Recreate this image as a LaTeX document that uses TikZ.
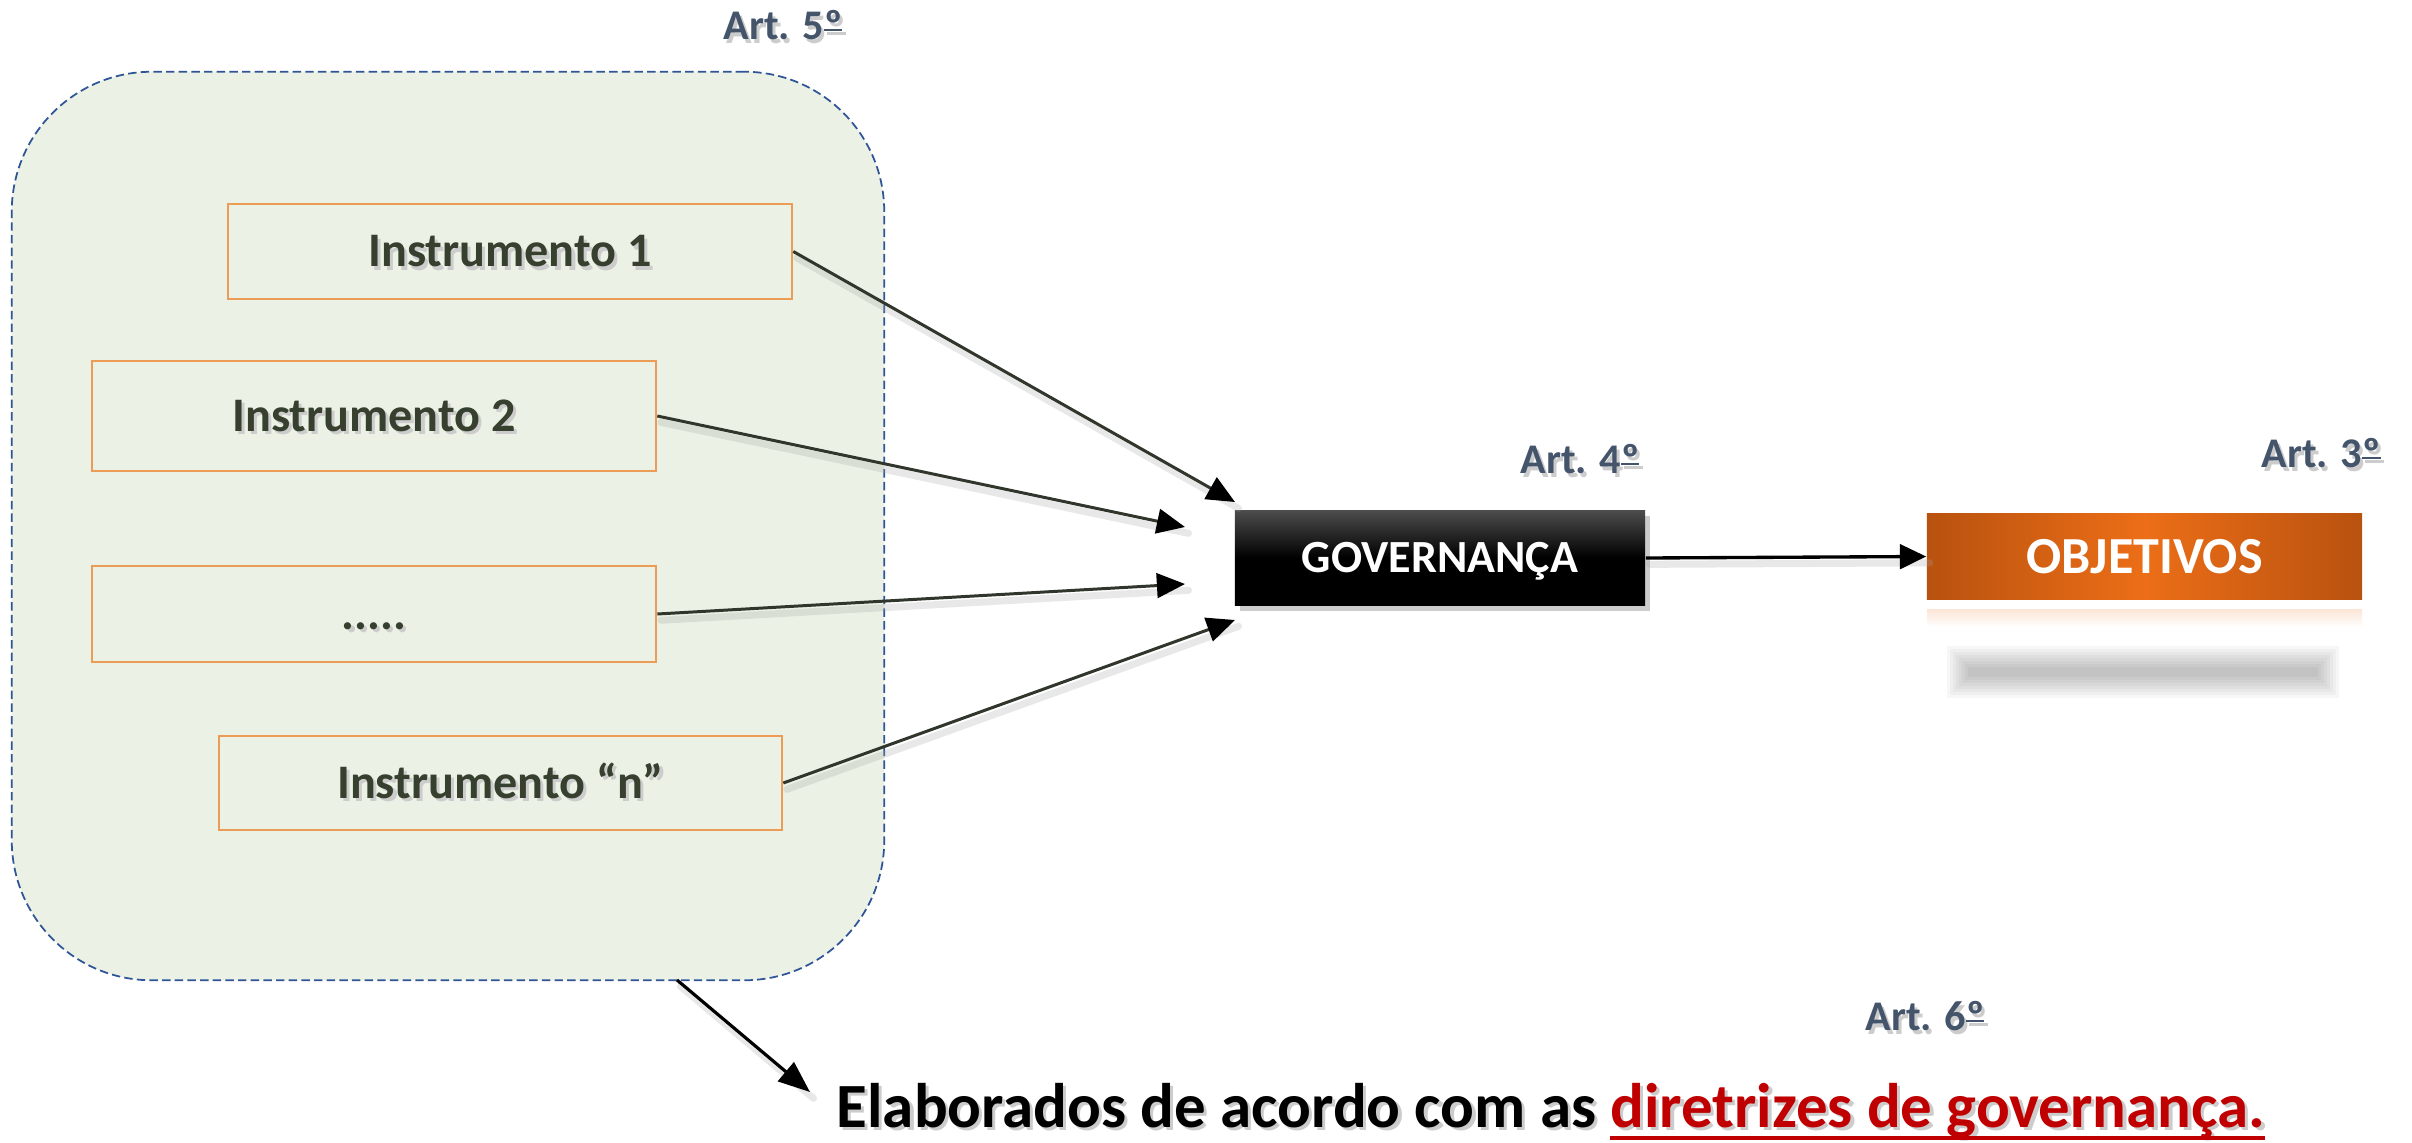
\documentclass[tikz,border=0pt]{standalone}
\usepackage{fontspec}
\setmainfont{Carlito}
\usetikzlibrary{arrows.meta,shadows}
\definecolor{grpfill}{HTML}{EBF2E5}
\definecolor{grpline}{HTML}{2F5597}
\definecolor{iborder}{HTML}{ED9C55}
\definecolor{itext}{HTML}{37402F}
\definecolor{artcol}{HTML}{44546A}
\definecolor{conncol}{HTML}{30362C}
\definecolor{ordark}{HTML}{B8520F}
\definecolor{orbright}{HTML}{EC6E17}
\definecolor{DRed}{HTML}{C00000}
\newif\ifshdw
\newcommand\shd[1]{\makebox[0pt][l]{\kern0.9pt\raisebox{-0.9pt}{\shdwtrue\color{black!20}#1}}#1}
\newcommand\redul[1]{\ifshdw#1\else\setbox0\hbox{\color{DRed}#1}\rlap{\color{DRed}\rule[-3.8pt]{\wd0}{1.3pt}}\box0\fi}
\newcommand\ordul{\setbox2\hbox{º}\rlap{\rule[0.2em]{\wd2}{0.06em}}\box2}
\begin{document}
\begin{tikzpicture}[x=0.01cm,y=-0.01cm,
  ibox/.style={draw=iborder, line width=0.65pt, fill=grpfill, minimum width=5.64cm, inner sep=0pt,
    text=itext, font=\fontsize{13.7}{16}\selectfont\bfseries, text height=8.8pt, text depth=0pt},
  artlbl/.style={text=artcol, inner sep=0pt, font=\fontsize{12}{14}\selectfont\bfseries},
  conn/.style={draw=conncol, line width=0.85pt, -{Triangle[length=8pt,width=7pt,color=black]}},
  connshd/.style={draw=black!35, line width=2pt, opacity=0.25, line cap=round,
    transform canvas={xshift=1pt,yshift=-1.8pt}},
  govbox/.style={minimum width=4.1cm, minimum height=0.95cm, inner sep=0pt,
    top color=black!70, bottom color=black, middle color=black,
    drop shadow={shadow xshift=1.5pt, shadow yshift=-1.5pt, opacity=0.4},
    text=white, font=\fontsize{13.1}{15}\selectfont\bfseries, text height=8.4pt, text depth=0pt},
  objbox/.style={minimum width=4.35cm, minimum height=0.85cm, inner sep=0pt,
    left color=ordark, right color=ordark, middle color=orbright,
    text=white, font=\fontsize{14.8}{17}\selectfont\bfseries, text height=9.5pt, text depth=0pt},
]
\fill[white] (0,0) rectangle (2412,1142);
\useasboundingbox (0,0) rectangle (2412,1142);

% group container
\node[draw=grpline, dash pattern=on 2.4pt off 1.2pt, line width=0.5pt, fill=grpfill,
  rounded corners=1.4cm, minimum width=8.72cm, minimum height=9.08cm, inner sep=0pt] (grp) at (448,526) {};

% instrument boxes
\node[ibox, minimum height=0.95cm] (i1) at (510,251.5) {\shd{Instrumento 1}};
\node[ibox, minimum height=1.10cm] (i2) at (374,416) {\shd{Instrumento 2}};
\node[ibox, minimum height=0.96cm] (i3) at (374,614) {\shd{.....}};
\node[ibox, minimum height=0.94cm, minimum width=5.63cm] (i4) at (500.5,783) {\shd{Instrumento “n”}};

% governance and objectives
\node[govbox] (gov) at (1440,558) {GOVERNANÇA};
\fill[top color=orbright!18, bottom color=white] (1927,609) rectangle (2362,627);
\foreach \k in {0,3,...,21} {
  \fill[black, opacity=0.03] (1968-\k,667-\k) rectangle (2318+\k,677+\k);
}
\node[objbox] (obj) at (2144.5,556.5) {OBJETIVOS};

% labels
\node[artlbl] (a5) at (783,27) {\shd{Art. 5\ordul}};
\node[artlbl] (a4) at (1580,461) {\shd{Art. 4\ordul}};
\node[artlbl] (a3) at (2321,455) {\shd{Art. 3\ordul}};
\node[artlbl] (a6) at (1925,1018) {\shd{Art. 6\ordul}};
\node[anchor=base west, inner sep=0pt, font=\fontsize{17.9}{20}\selectfont\bfseries] (elab) at (836,1127)
  {\shd{Elaborados de acordo com as \redul{diretrizes de governança.}}};

% connector end points
\coordinate (t1) at (1235,502);
\coordinate (t2) at (1185,527);
\coordinate (t3) at (1185,584);
\coordinate (t4) at (1235,620);
\coordinate (gout) at (677,980);
\coordinate (etip) at (810,1092);

% shadows of connectors
\draw[connshd] (i1.east) -- (t1);
\draw[connshd] (i2.east) -- (t2);
\draw[connshd] (i3.east) -- (t3);
\draw[connshd] (i4.east) -- (t4);
\draw[connshd] (gov.east) -- (obj.west);
\draw[connshd] (gout) -- (etip);

% connectors
\draw[conn] (i1.east) -- (t1);
\draw[conn] (i2.east) -- (t2);
\draw[conn] (i3.east) -- (t3);
\draw[conn] (i4.east) -- (t4);
\draw[conn, draw=black, line width=0.95pt, -{Triangle[length=7.5pt,width=7pt]}] (gov.east) -- (obj.west);
\draw[conn, draw=black, line width=0.9pt, -{Triangle[length=9pt,width=7pt]}] (gout) -- (etip);
\end{tikzpicture}
\end{document}
